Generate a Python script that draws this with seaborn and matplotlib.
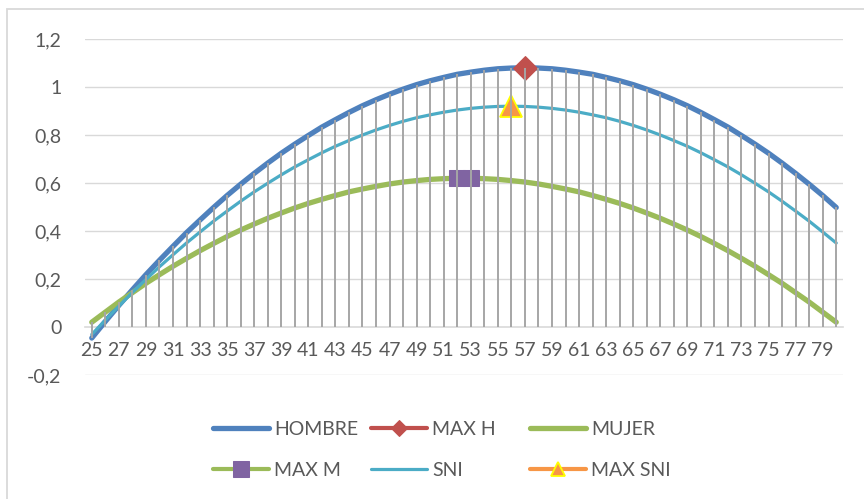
import numpy as np
import pandas as pd
import matplotlib
matplotlib.use("Agg")
import matplotlib.pyplot as plt
from matplotlib.patches import Rectangle
import seaborn as sns

# ---- data ----
edades = list(range(25, 81))
hombre = [-0.046, 0.023, 0.090, 0.155, 0.218, 0.278, 0.336, 0.393, 0.446, 0.498,
          0.548, 0.595, 0.640, 0.683, 0.724, 0.762, 0.798, 0.833, 0.864, 0.894,
          0.922, 0.947, 0.970, 0.991, 1.010, 1.026, 1.040, 1.053, 1.062, 1.070,
          1.076, 1.079, 1.080, 1.079, 1.076, 1.070, 1.062, 1.053, 1.040, 1.026,
          1.010, 0.991, 0.970, 0.947, 0.922, 0.894, 0.864, 0.833, 0.798, 0.762,
          0.724, 0.683, 0.640, 0.595, 0.548, 0.498]
mujer = [0.020, 0.062, 0.104, 0.143, 0.182, 0.218, 0.253, 0.286, 0.318, 0.348,
         0.377, 0.404, 0.429, 0.453, 0.475, 0.496, 0.515, 0.532, 0.548, 0.563,
         0.575, 0.586, 0.596, 0.604, 0.610, 0.615, 0.618, 0.620, 0.620, 0.618,
         0.615, 0.610, 0.604, 0.596, 0.586, 0.575, 0.563, 0.548, 0.532, 0.515,
         0.496, 0.475, 0.453, 0.429, 0.404, 0.377, 0.348, 0.318, 0.286, 0.253,
         0.218, 0.182, 0.143, 0.104, 0.062, 0.020]
sni = [-0.031, 0.029, 0.087, 0.144, 0.198, 0.251, 0.301, 0.350, 0.396, 0.441,
       0.483, 0.524, 0.563, 0.599, 0.634, 0.667, 0.697, 0.726, 0.753, 0.777,
       0.800, 0.821, 0.840, 0.857, 0.872, 0.884, 0.895, 0.904, 0.911, 0.916,
       0.919, 0.920, 0.919, 0.916, 0.911, 0.904, 0.895, 0.884, 0.872, 0.857,
       0.840, 0.821, 0.800, 0.777, 0.753, 0.726, 0.697, 0.667, 0.634, 0.599,
       0.563, 0.524, 0.483, 0.441, 0.396, 0.350]
max_h_x = [57]
max_h_y = [1.08]
max_m_x = [52, 53]
max_m_y = [0.62, 0.62]
max_sni_x = [56]
max_sni_y = [0.92]
y_ticks = [-0.2, 0, 0.2, 0.4, 0.6, 0.8, 1.0, 1.2]
y_labels = ["-0,2", "0", "0,2", "0,4", "0,6", "0,8", "1", "1,2"]
x_ticks = list(range(25, 81, 2))

C_H = "#4F81BD"
C_M = "#9BBB59"
C_S = "#4BACC6"
C_MH = "#C0504D"
C_MM = "#8064A2"
C_MS = "#F79646"
GRID = "#D9D9D9"
TXT = "#595959"

sns.set_style("white")
plt.rcParams["font.family"] = ["Lato", "DejaVu Sans"]

fig = plt.figure(figsize=(8.64, 4.99), dpi=100)
W, H = 864, 499
ax = fig.add_axes([85 / W, 1 - 375 / H, (843 - 85) / W, (375 - 39) / H])

df = pd.DataFrame({"edad": edades, "HOMBRE": hombre, "MUJER": mujer, "SNI": sni})

for yv in y_ticks:
    if yv != 0:
        ax.axhline(yv, color=GRID, lw=1.0, zorder=0)

sns.lineplot(data=df, x="edad", y="HOMBRE", ax=ax, color=C_H, lw=3.8, label="HOMBRE", zorder=3)
sns.lineplot(x=max_h_x, y=max_h_y, ax=ax, color=C_MH, lw=3, marker="D", markersize=12,
             markerfacecolor=C_MH, markeredgecolor=C_MH, label="MAX H", zorder=5)
sns.lineplot(data=df, x="edad", y="MUJER", ax=ax, color=C_M, lw=3.8, label="MUJER", zorder=3)
sns.lineplot(x=max_m_x, y=max_m_y, ax=ax, color=C_M, lw=3, marker="s", markersize=12,
             markerfacecolor=C_MM, markeredgecolor=C_MM, label="MAX M", zorder=5)
sns.lineplot(data=df, x="edad", y="SNI", ax=ax, color=C_S, lw=2.3, label="SNI", zorder=3)
sns.lineplot(x=max_sni_x, y=max_sni_y, ax=ax, color=C_MS, lw=3, marker="^", markersize=16,
             markerfacecolor=C_MS, markeredgecolor="#FFFF00", markeredgewidth=1.3,
             label="MAX SNI", zorder=5)

# drop lines
all_vals = np.vstack([hombre, mujer, sni])
top = all_vals.max(axis=0)
bot = np.minimum(all_vals.min(axis=0), 0)
ax.vlines(edades, bot, top, color="#A6A6A6", lw=1.4, zorder=6)

ax.set_xlim(24.5, 80.5)
ax.set_ylim(-0.2, 1.2)
ax.set_yticks(y_ticks)
ax.set_yticklabels(y_labels)
ax.set_xticks(x_ticks)
ax.set_xticklabels([str(v) for v in x_ticks])
ax.set_xlabel("")
ax.set_ylabel("")
for s in ["top", "right", "left"]:
    ax.spines[s].set_visible(False)
ax.spines["bottom"].set_position(("data", 0))
ax.spines["bottom"].set_color(GRID)
ax.spines["bottom"].set_linewidth(1.2)
ax.spines["bottom"].set_zorder(1)
ax.tick_params(axis="x", length=0, pad=11, labelsize=14, labelcolor=TXT)
ax.tick_params(axis="y", length=0, pad=17, labelsize=14, labelcolor=TXT)
ax.set_facecolor("none")

handles, labels = ax.get_legend_handles_labels()
ax.get_legend().remove()
hmap = dict(zip(labels, handles))
msize = {"MAX H": 8, "MAX M": 11, "MAX SNI": 10}
cols = [(["HOMBRE", "MAX M"], 203), (["MAX H", "SNI"], 361), (["MUJER", "MAX SNI"], 520)]
for names, px in cols:
    lg = fig.legend([hmap[n] for n in names], names, loc="upper left",
                    bbox_to_anchor=(px / W, 1 - 411 / H), frameon=False,
                    fontsize=14, handlelength=2.9, handletextpad=0.25,
                    labelspacing=1.25, borderpad=0, labelcolor=TXT)
    for h, n in zip(lg.legend_handles, names):
        if n in msize:
            h.set_markersize(msize[n])

fig.add_artist(Rectangle((7 / W, -0.1), 1.2, (1 - 9 / H) + 0.1, transform=fig.transFigure,
                         fill=False, edgecolor=GRID, lw=1.3))

fig.savefig("out.png", dpi=100)
